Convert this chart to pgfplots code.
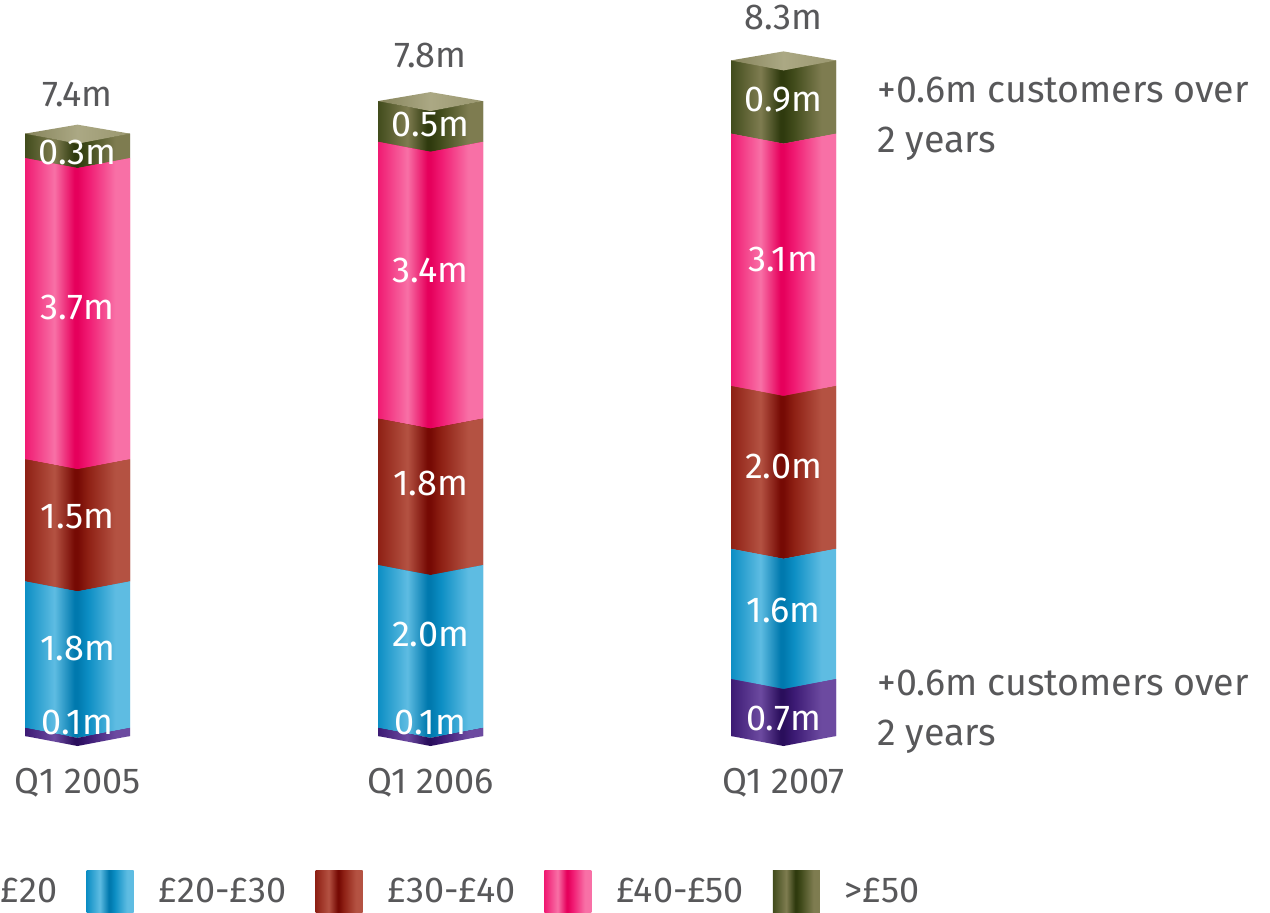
\documentclass[border=0pt]{standalone}
\usepackage{pgfplots}
\usepackage{pgfplotstable}
\pgfplotsset{compat=1.18}
\usepackage{fontspec}
\setmainfont{Fira Sans}

\definecolor{txt}{HTML}{58585A}
\definecolor{pD}{HTML}{2A0E5C}
\definecolor{pM}{HTML}{3C1A74}
\definecolor{pL}{HTML}{6C4AA0}
\definecolor{bD}{HTML}{0079AE}
\definecolor{bM}{HTML}{0C8EC4}
\definecolor{bL}{HTML}{5EBCE2}
\definecolor{rD}{HTML}{760A04}
\definecolor{rM}{HTML}{8E2014}
\definecolor{rL}{HTML}{B45242}
\definecolor{kD}{HTML}{E6005C}
\definecolor{kM}{HTML}{F01A72}
\definecolor{kL}{HTML}{F870A6}
\definecolor{oD}{HTML}{2F3A0E}
\definecolor{oM}{HTML}{424C1C}
\definecolor{oL}{HTML}{7E7C50}
\definecolor{cD}{HTML}{85835A}
\definecolor{cL}{HTML}{ABA884}
\definecolor{cM}{HTML}{9A976F}

\newcommand\barshade[2]{%
\pgfdeclarehorizontalshading{#1}{100bp}{color(0bp)=(#2M); color(25bp)=(#2M); color(39bp)=(#2L); color(48.5bp)=(#2D); color(50bp)=(#2D); color(55bp)=(#2M); color(68bp)=(#2L); color(75bp)=(#2L); color(100bp)=(#2L)}}
\barshade{shp}{p}
\barshade{shb}{b}
\barshade{shr}{r}
\barshade{shk}{k}
\barshade{sho}{o}
\pgfdeclarehorizontalshading{shc}{100bp}{color(0bp)=(cD); color(25bp)=(cD); color(50bp)=(cL); color(75bp)=(cM); color(100bp)=(cM)}

% one segment of a 3-D looking column: height comes from the data value (\segh, in pt)
\newcommand\segpath{%
 \pgfpathmoveto{\pgfpoint{-26.25pt}{0pt}}%
 \pgfpathlineto{\pgfpoint{0pt}{-5pt}}%
 \pgfpathlineto{\pgfpoint{26.25pt}{0pt}}%
 \pgfpathlineto{\pgfpoint{26.25pt}{-\segh pt}}%
 \pgfpathlineto{\pgfpoint{0pt}{-\segh pt-5pt}}%
 \pgfpathlineto{\pgfpoint{-26.25pt}{-\segh pt}}%
 \pgfpathclose}
\newcommand\segmark[2]{%
\pgfdeclareplotmark{#1}{\segpath\pgfshadepath{#2}{0}\pgfusepath{discard}}}
\segmark{segp}{shp}
\segmark{segb}{shb}
\segmark{segr}{shr}
\segmark{segk}{shk}
\pgfdeclareplotmark{sego}{\segpath\pgfshadepath{sho}{0}\pgfusepath{discard}%
 \pgfpathmoveto{\pgfqpoint{-26.25pt}{0pt}}\pgfpathlineto{\pgfqpoint{0pt}{4.5pt}}\pgfpathlineto{\pgfqpoint{26.25pt}{0pt}}\pgfpathlineto{\pgfqpoint{0pt}{-5pt}}\pgfpathclose\pgfshadepath{shc}{0}\pgfusepath{discard}}

\newcommand\lbl{\fontsize{18}{21}\selectfont}

\pgfplotstableread{
x lt20 b2030 b3040 b4050 gt50
0 0.1 1.8 1.5 3.7 0.3
1 0.1 2.0 1.8 3.4 0.5
2 0.7 1.6 2.0 3.1 0.9
}\datatab

\pgfplotstableread{
x y lab
0 0.172 0.1m
0 1.081 1.8m
0 2.690 1.5m
0 5.270 3.7m
0 7.174 0.3m
1 0.172 0.1m
1 1.253 2.0m
1 3.108 1.8m
1 5.725 3.4m
1 7.518 0.5m
2 0.221 0.7m
2 1.548 1.6m
2 3.317 2.0m
2 5.848 3.1m
2 7.813 0.9m
}\labtab

\pgfplotstableread{
x y lab
0 7.875 7.4m
1 8.366 7.8m
2 8.821 8.3m
}\tottab

\pgfplotsset{
  base/.style={
    scale only axis, width=635pt, height=456pt,
    xmin=-0.21955, xmax=3.37819, ymin=-2.162, ymax=9.042,
    clip=false,
  }
}

\begin{document}
\begin{tikzpicture}
\begin{axis}[base,
  ybar stacked, bar width=52.5pt,
  axis line style={draw=none}, major tick length=0pt,
  xtick={0,1,2}, xticklabels={Q1 2005,Q1 2006,Q1 2007},
  ytick=\empty,
  xticklabel style={anchor=base, yshift=59.5pt, text=txt, font=\lbl},
  legend columns=5,
  legend cell align=left,
  legend image code/.code={\path[#1, draw=none] (0pt,-10.5pt) rectangle (23.5pt,10.5pt);},
  legend style={at={(rel axis cs:-0.0701,0.022)}, anchor=west, draw=none, fill=none,
    inner sep=0pt, outer sep=0pt, font=\lbl, text=txt,
    nodes={inner sep=0pt},
    /tikz/every odd column/.append style={column sep=12.5pt},
    /tikz/every even column/.append style={column sep=14.5pt}},
]
\addplot[draw=none, shade, shading=shp, mark=segp,
  visualization depends on={\thisrow{lt20}*40.7\as\segh}] table[x=x,y=lt20]{\datatab};
\addplot[draw=none, shade, shading=shb, mark=segb,
  visualization depends on={\thisrow{b2030}*40.7\as\segh}] table[x=x,y=b2030]{\datatab};
\addplot[draw=none, shade, shading=shr, mark=segr,
  visualization depends on={\thisrow{b3040}*40.7\as\segh}] table[x=x,y=b3040]{\datatab};
\addplot[draw=none, shade, shading=shk, mark=segk,
  visualization depends on={\thisrow{b4050}*40.7\as\segh}] table[x=x,y=b4050]{\datatab};
\addplot[draw=none, shade, shading=sho, mark=sego,
  visualization depends on={\thisrow{gt50}*40.7\as\segh}] table[x=x,y=gt50]{\datatab};
\legend{<£20,£20-£30,£30-£40,£40-£50,>£50}
\end{axis}

\begin{axis}[base, hide axis]
\coordinate (BL) at (rel axis cs:0,0);
\coordinate (TR) at (rel axis cs:1,1);
\addplot[only marks, mark=*, mark size=0pt, mark options={draw=none,fill=none},
  nodes near coords, point meta=explicit symbolic,
  nodes near coords style={anchor=center, inner sep=0pt, text=white, font=\lbl}]
  table[x=x,y=y,meta=lab]{\labtab};
\addplot[only marks, mark=*, mark size=0pt, mark options={draw=none,fill=none},
  nodes near coords, point meta=explicit symbolic,
  nodes near coords style={anchor=center, inner sep=0pt, text=txt, font=\lbl}]
  table[x=x,y=y,meta=lab]{\tottab};
\node[anchor=west, align=left, text=txt, inner sep=0pt, font=\fontsize{18.8}{25}\selectfont] at (axis cs:2.2649,7.58) {+0.6m customers over\\2 years};
\node[anchor=west, align=left, text=txt, inner sep=0pt, font=\fontsize{18.8}{25}\selectfont] at (axis cs:2.2649,0.294) {+0.6m customers over\\2 years};
\end{axis}
\pgfresetboundingbox
\path[use as bounding box] (BL) rectangle (TR);
\end{tikzpicture}
\end{document}
